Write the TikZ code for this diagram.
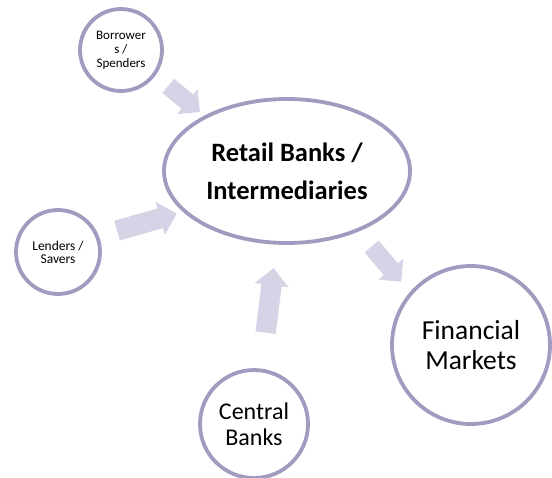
\documentclass[tikz,border=0pt]{standalone}
\usepackage{fontspec}
\setmainfont{Carlito}
\usetikzlibrary{shapes.geometric,shapes.arrows}
\definecolor{ringc}{HTML}{A09CBF}
\definecolor{arrc}{HTML}{D5D3E6}
\begin{document}
\begin{tikzpicture}[x=1pt,y=-1pt,
  ring/.style={circle,draw=ringc,line width=3.8pt,fill=white,inner sep=0pt,align=center,text=black},
  hub/.style={ellipse,draw=ringc,line width=3.8pt,fill=white,inner sep=0pt,align=center,text=black},
  diagarrow/.style={single arrow,fill=arrc,draw=none,inner xsep=0pt,inner ysep=9pt,single arrow head extend=7pt},
  straightarrow/.style={single arrow,fill=arrc,draw=none,inner xsep=0pt,inner ysep=10pt,single arrow head extend=7pt}]
\useasboundingbox (0,0) rectangle (552,477);
\node[ring,minimum size=82pt,font=\fontsize{13}{14}\selectfont] (borrow) at (121,50) {Borrower\\s /\\Spenders};
\node[ring,minimum size=84pt,font=\fontsize{13.5}{13}\selectfont] (lend) at (58,252) {Lenders /\\Savers};
\node[hub,minimum width=246pt,minimum height=144pt,font=\bfseries\fontsize{26.5}{38}\selectfont] (retail) at (287,171) {Retail Banks /\\Intermediaries};
\node[ring,minimum size=158pt,font=\fontsize{27.5}{30}\selectfont] (fin) at (471,345) {Financial\\Markets};
\node[ring,minimum size=108pt,font=\fontsize{24}{26}\selectfont] (central) at (254,424) {Central\\Banks};
\node[diagarrow,minimum height=41pt,rotate=-39.6] (a1) at (180.5,96) {};
\node[straightarrow,minimum height=62pt,rotate=15.8] (a2) at (142,223.5) {};
\node[straightarrow,minimum height=65pt,rotate=83] (a3) at (269,305.5) {};
\node[diagarrow,minimum height=46pt,rotate=-50] (a4) at (383.5,260.5) {};
\end{tikzpicture}
\end{document}
